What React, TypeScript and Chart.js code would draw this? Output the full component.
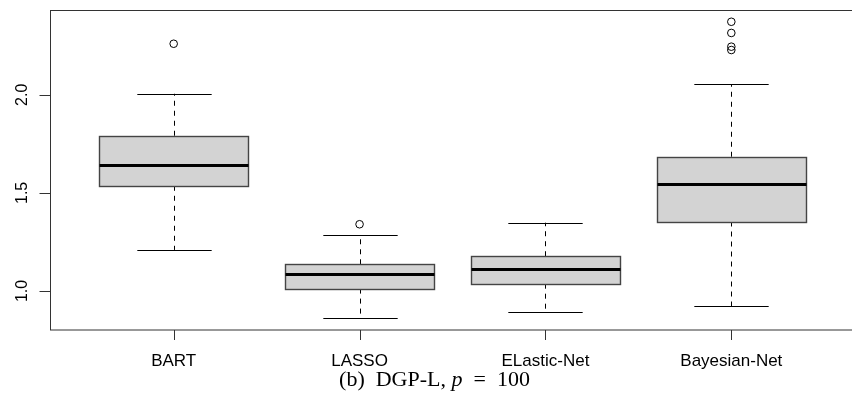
import React, { useEffect, useRef } from "react";
import { Chart, registerables } from "chart.js";

Chart.register(...registerables);

const categories = ["BART", "LASSO", "ELastic-Net", "Bayesian-Net"];
const whiskerLow = [1.209, 0.861, 0.893, 0.923];
const q1 = [1.536, 1.012, 1.037, 1.354];
const medians = [1.64, 1.088, 1.114, 1.543];
const q3 = [1.791, 1.136, 1.177, 1.684];
const whiskerHigh = [2.005, 1.287, 1.348, 2.053];
const outliers = [[2.26], [1.34], [], [2.372, 2.315, 2.245, 2.228]];
const yTicks = [1.0, 1.5, 2.0];
const yTickLabels = ["1.0", "1.5", "2.0"];
const yMin = 0.801;
const yMax = 2.432;
const xMin = 0.34;
const xMax = 4.66;
const boxWidthUnits = 0.8;

const SANS = "'Liberation Sans', Arial, sans-serif";
const SERIF = "'Liberation Serif', 'DejaVu Serif', serif";

const boxPlugin = {
  id: "boxExtras",
  beforeDatasetsDraw(chart: any) {
    const ctx = chart.ctx;
    const xs = chart.scales.x;
    const ys = chart.scales.y;
    const unit = xs.getPixelForValue(2) - xs.getPixelForValue(1);
    const halfBox = (unit * boxWidthUnits) / 2;
    const halfCap = halfBox / 2;
    ctx.save();
    categories.forEach((_, i) => {
      const cxr = xs.getPixelForValue(i + 1);
      const cx = Math.round(cxr) + 0.5;
      const yLo = ys.getPixelForValue(whiskerLow[i]);
      const yQ1 = ys.getPixelForValue(q1[i]);
      const yQ3 = ys.getPixelForValue(q3[i]);
      const yHi = ys.getPixelForValue(whiskerHigh[i]);
      // whiskers
      ctx.strokeStyle = "#000";
      ctx.lineWidth = 1;
      ctx.setLineDash([5, 5]);
      ctx.beginPath();
      ctx.moveTo(cx, yQ1);
      ctx.lineTo(cx, yLo);
      ctx.moveTo(cx, yQ3);
      ctx.lineTo(cx, yHi);
      ctx.stroke();
      ctx.setLineDash([]);
      ctx.beginPath();
      const lo = Math.round(yLo) + 0.5;
      const hi = Math.round(yHi) + 0.5;
      ctx.moveTo(cx - halfCap, lo);
      ctx.lineTo(cx + halfCap, lo);
      ctx.moveTo(cx - halfCap, hi);
      ctx.lineTo(cx + halfCap, hi);
      ctx.stroke();
      // box
      const left = Math.round(cxr - halfBox) + 0.5;
      const right = Math.round(cxr + halfBox) + 0.5;
      const top = Math.round(yQ3) + 0.5;
      const bot = Math.round(yQ1) + 0.5;
      ctx.fillStyle = "#d3d3d3";
      ctx.fillRect(left, top, right - left, bot - top);
      ctx.strokeStyle = "#444";
      ctx.lineWidth = 1.4;
      ctx.strokeRect(left, top, right - left, bot - top);
      // median
      const ym = Math.round(ys.getPixelForValue(medians[i])) + 0.5;
      ctx.strokeStyle = "#000";
      ctx.lineWidth = 3;
      ctx.beginPath();
      ctx.moveTo(left, ym);
      ctx.lineTo(right, ym);
      ctx.stroke();
    });
    ctx.restore();
  },
  afterDatasetsDraw(chart: any) {
    const ctx = chart.ctx;
    const xs = chart.scales.x;
    const ys = chart.scales.y;
    const area = chart.chartArea;
    ctx.save();
    // frame
    ctx.lineWidth = 1;
    ctx.strokeStyle = "#333";
    ctx.strokeRect(area.left - 0.5, area.top + 0.5, area.right - area.left, area.bottom - area.top - 0.5);
    // y ticks and labels
    ctx.fillStyle = "#000";
    ctx.font = `16px ${SANS}`;
    yTicks.forEach((v, i) => {
      const y = Math.round(ys.getPixelForValue(v)) + 0.5;
      ctx.beginPath();
      ctx.moveTo(area.left - 0.5, y);
      ctx.lineTo(area.left - 11.5, y);
      ctx.stroke();
      ctx.save();
      ctx.translate(27, ys.getPixelForValue(v));
      ctx.rotate(-Math.PI / 2);
      ctx.textAlign = "center";
      ctx.textBaseline = "alphabetic";
      ctx.fillText(yTickLabels[i], 0, 0);
      ctx.restore();
    });
    // x ticks and labels
    ctx.font = `17px ${SANS}`;
    categories.forEach((c, i) => {
      const x = Math.round(xs.getPixelForValue(i + 1)) + 0.5;
      ctx.beginPath();
      ctx.moveTo(x, area.bottom);
      ctx.lineTo(x, area.bottom + 10);
      ctx.stroke();
      ctx.textAlign = "center";
      ctx.textBaseline = "alphabetic";
      ctx.fillText(c, xs.getPixelForValue(i + 1), 366);
    });
    // caption
    const parts = [
      { t: "(b)  DGP-L, ", italic: false },
      { t: "p", italic: true },
      { t: "  =  100", italic: false },
    ];
    const size = 22;
    let total = 0;
    parts.forEach((p) => {
      ctx.font = `${p.italic ? "italic " : ""}${size}px ${SERIF}`;
      total += ctx.measureText(p.t).width;
    });
    let x = 434.5 - total / 2;
    ctx.textAlign = "left";
    parts.forEach((p) => {
      ctx.font = `${p.italic ? "italic " : ""}${size}px ${SERIF}`;
      ctx.fillText(p.t, x, 386);
      x += ctx.measureText(p.t).width;
    });
    ctx.restore();
  },
};

export default function App() {
  const ref = useRef<HTMLCanvasElement>(null);
  useEffect(() => {
    if (!ref.current) return;
    Chart.defaults.font.family = SANS;
    const chart = new Chart(ref.current, {
      type: "scatter",
      data: {
        datasets: [
          {
            type: "scatter",
            data: outliers.flatMap((arr, i) => arr.map((v) => ({ x: i + 1, y: v }))),
            pointStyle: "circle",
            pointRadius: 3.8,
            backgroundColor: "rgba(0,0,0,0)",
            borderColor: "#000",
            borderWidth: 1,
          } as any,
        ],
      },
      options: {
        responsive: false,
        animation: false,
        devicePixelRatio: 1,
        layout: { padding: { top: 10, left: 0, right: 0, bottom: 0 } },
        plugins: { legend: { display: false }, tooltip: { enabled: false }, title: { display: false } },
        scales: {
          x: {
            type: "linear",
            min: xMin,
            max: xMax,
            offset: false,
            grid: { display: false },
            border: { display: false },
            ticks: { display: false },
            afterFit: (s: any) => {
              s.height = 74;
            },
          },
          y: {
            type: "linear",
            min: yMin,
            max: yMax,
            grid: { display: false },
            border: { display: false },
            ticks: { display: false },
            afterFit: (s: any) => {
              s.width = 51;
            },
          },
        },
      } as any,
      plugins: [boxPlugin],
    });
    return () => chart.destroy();
  }, []);
  return (
    <div style={{ position: "fixed", left: 0, top: 0, width: 852, height: 404, overflow: "hidden", background: "#fff" }}>
      <canvas ref={ref} width={859} height={404} style={{ width: 859, height: 404, display: "block" }} />
    </div>
  );
}
